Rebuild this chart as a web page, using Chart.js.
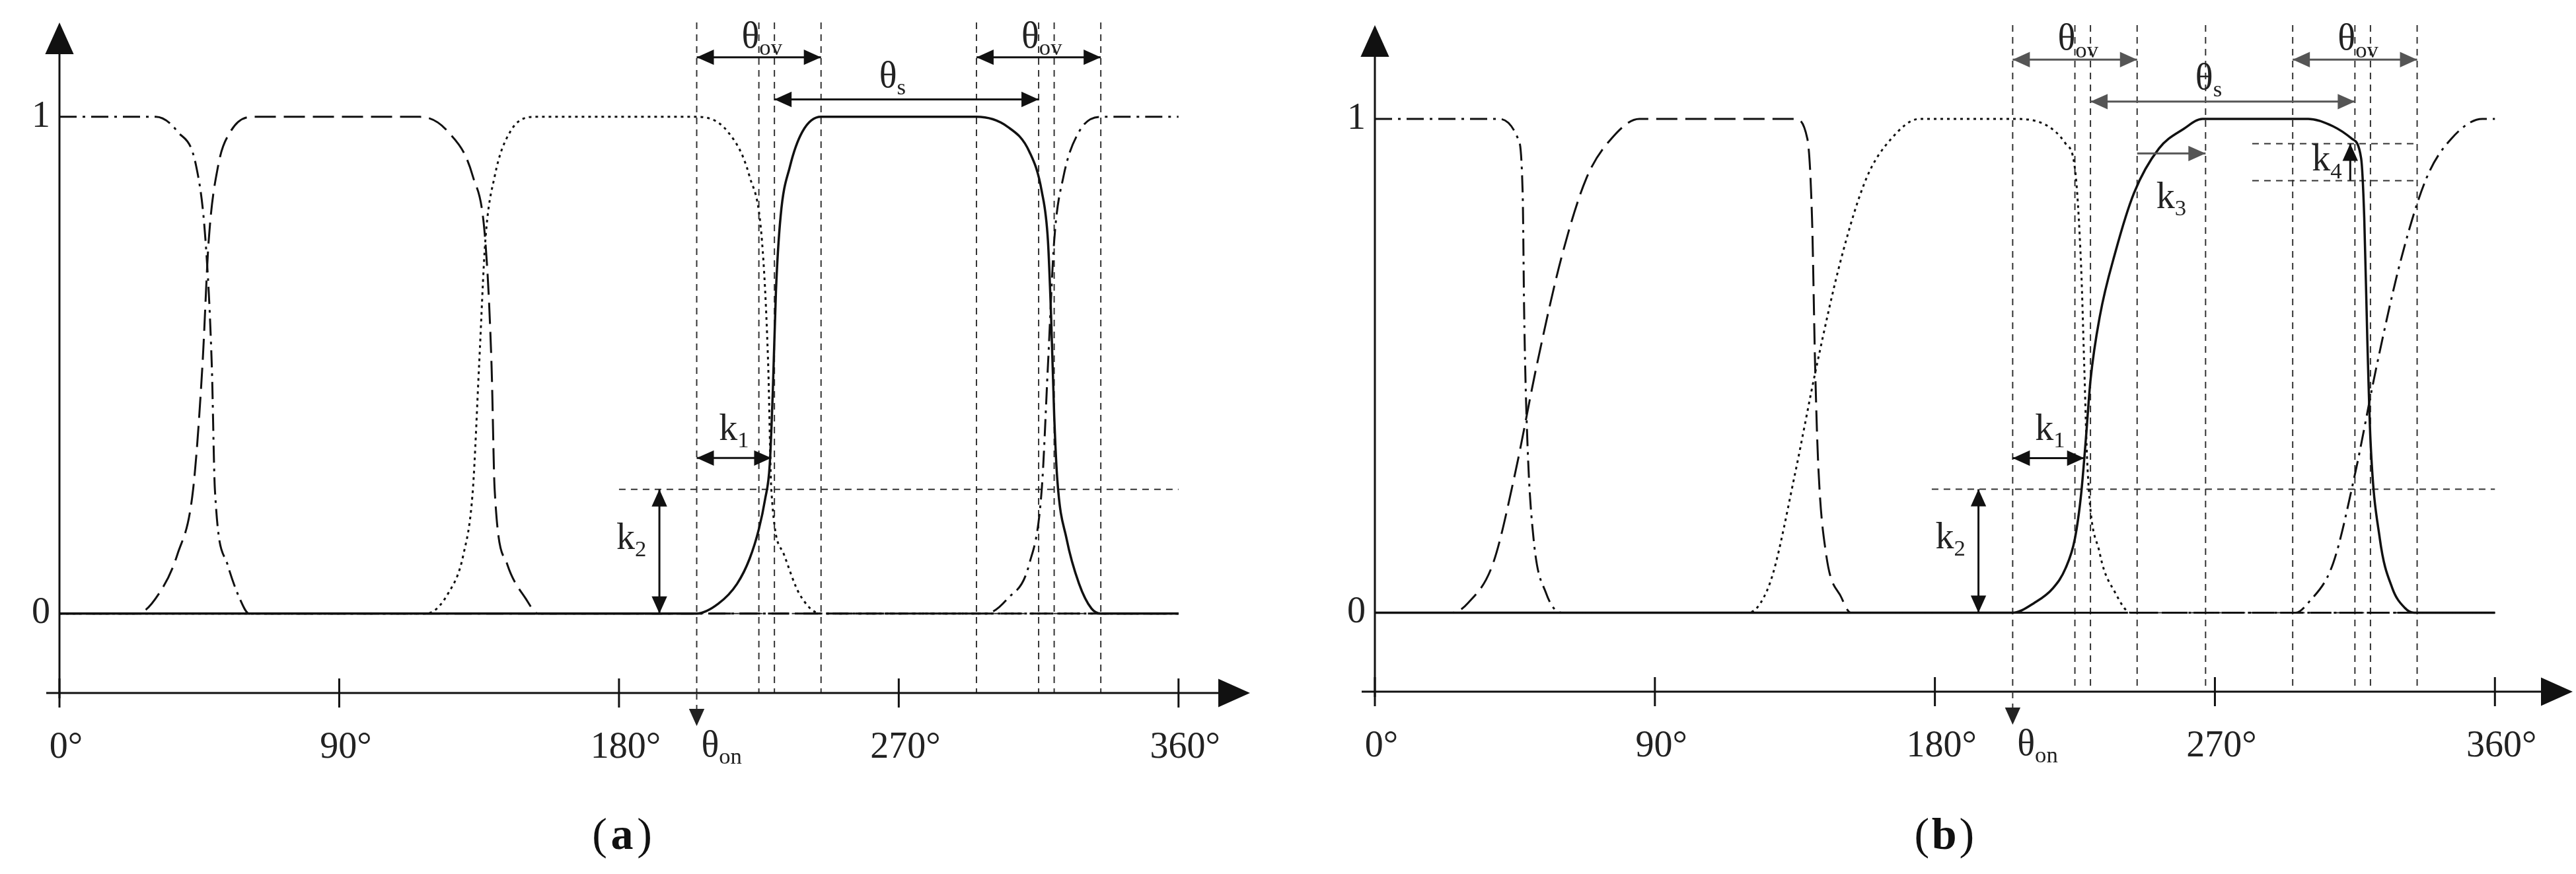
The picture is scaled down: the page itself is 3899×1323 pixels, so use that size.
<!DOCTYPE html>
<html><head><meta charset="utf-8">
<script src="https://cdn.jsdelivr.net/npm/chart.js@4/dist/chart.umd.min.js"></script>
<style>body{margin:0;background:#fff;width:3899px;height:1323px;overflow:hidden}canvas{position:absolute;top:0}</style>
</head><body>
<canvas id="ca" width="1950" height="1323" style="left:0"></canvas>
<canvas id="cb" width="1949" height="1323" style="left:1950px"></canvas>
<script>
// ---- data (degrees, normalized inductance/current profile) ----
const xTicks = [0, 90, 180, 270, 360];
const xTickLabels = ["0°", "90°", "180°", "270°", "360°"];
const yTicks = [0, 1];

// panel (a)
const aSolidX = [0,205,212,218,222,225,227,228.5,229.5,230.5,232,235,239,245,295,305,312,316,318,319,320,321,324,328,332,335,360];
const aSolidY = [0,0,0.02,0.06,0.11,0.17,0.23,0.3,0.45,0.65,0.8,0.9,0.97,1,1,0.98,0.93,0.85,0.75,0.6,0.4,0.27,0.15,0.06,0.01,0,0];
const aDotX = [0,118,125,130,133,135,137,140,145,153,205,215,222,226,228,229,233,238,245,360];
const aDotY = [0,0,0.04,0.12,0.25,0.5,0.75,0.88,0.97,1,1,0.97,0.88,0.75,0.5,0.25,0.12,0.04,0,0];
const aDashX = [0,25,32,38,43,46,48,51,55,62,116,125,133,137,139,140,144,150,154,360];
const aDashY = [0,0,0.04,0.12,0.25,0.5,0.75,0.9,0.97,1,1,0.97,0.88,0.75,0.5,0.25,0.1,0.03,0,0];
const aDdX = [0,31,38,44,47,49,50,54,58,61,298,305,312,316,318,320,323,328,335,360];
const aDdY = [1,1,0.97,0.9,0.75,0.5,0.25,0.1,0.03,0,0,0.03,0.1,0.25,0.5,0.75,0.88,0.97,1,1];
const aVLines = [205,225,230,245,295,315,320,335];

// panel (b)
const bSolidX = [0,205,212,218,222,225,227,228.5,230,233,238,244,252,260,266,300,308,314,317,318,319,320,323,327,331,334,360];
const bSolidY = [0,0,0.02,0.05,0.09,0.15,0.24,0.35,0.47,0.6,0.73,0.85,0.94,0.98,1,1,0.985,0.96,0.92,0.8,0.55,0.35,0.15,0.05,0.01,0,0];
const bDotX = [0,120,124,128,135,142,150,158,166,175,205,215,222,225,227,228,229,233,238,243,360];
const bDotY = [0,0,0.02,0.08,0.28,0.5,0.72,0.88,0.96,1,1,0.99,0.95,0.9,0.7,0.5,0.3,0.12,0.04,0,0];
const bDashX = [0,25,30,38,45,52,60,68,76,85,135,139,140.5,141.5,142.5,145,150,153,360];
const bDashY = [0,0,0.02,0.1,0.28,0.5,0.72,0.88,0.96,1,1,0.96,0.8,0.5,0.3,0.12,0.03,0,0];
const bDdX = [0,40,46,47.5,48,49,51,55,60,296,300,308,315,322,330,338,346,356,360];
const bDdY = [1,1,0.96,0.85,0.6,0.35,0.15,0.04,0,0,0.02,0.1,0.28,0.5,0.72,0.88,0.96,1,1];
const bVLines = [205,225,230,245,267,295,315,320,335];

const pts = (xs, ys) => xs.map((x, i) => ({x, y: ys[i]}));
const FONT = '"Liberation Serif", "DejaVu Serif", serif';

function ds(xs, ys, dash, w) {
  return {data: pts(xs, ys), showLine: true, borderColor: '#111', borderWidth: w || 3,
    borderDash: dash, pointRadius: 0, cubicInterpolationMode: 'monotone', fill: false};
}

function head(ctx, x, y, ang, s, col) {
  ctx.save(); ctx.translate(x, y); ctx.rotate(ang);
  ctx.fillStyle = col; ctx.beginPath();
  ctx.moveTo(0, 0); ctx.lineTo(-s, -s * 0.45); ctx.lineTo(-s, s * 0.45); ctx.closePath(); ctx.fill();
  ctx.restore();
}
function arrow(ctx, x1, y1, x2, y2, both, col) {
  ctx.save(); ctx.strokeStyle = col; ctx.lineWidth = 3; ctx.setLineDash([]);
  ctx.beginPath(); ctx.moveTo(x1, y1); ctx.lineTo(x2, y2); ctx.stroke();
  const a = Math.atan2(y2 - y1, x2 - x1);
  head(ctx, x2, y2, a, 26, col);
  if (both) head(ctx, x1, y1, a + Math.PI, 26, col);
  ctx.restore();
}
function label(ctx, x, y, main, sub, size) {
  ctx.save(); ctx.fillStyle = '#222'; ctx.textBaseline = 'alphabetic'; ctx.textAlign = 'left';
  ctx.font = size + 'px ' + FONT;
  const w = ctx.measureText(main).width;
  ctx.font = (size * 0.62) + 'px ' + FONT;
  const ws = sub ? ctx.measureText(sub).width : 0;
  const x0 = x - (w + ws) / 2;
  ctx.font = size + 'px ' + FONT; ctx.fillText(main, x0, y);
  if (sub) { ctx.font = (size * 0.62) + 'px ' + FONT; ctx.fillText(sub, x0 + w, y + size * 0.2); }
  ctx.restore();
}

function makePlugin(cfg) {
  return {
    id: 'deco',
    beforeDatasetsDraw(chart) {
      const ctx = chart.ctx, X = chart.scales.x, Y = chart.scales.y;
      const px = v => X.getPixelForValue(v), py = v => Y.getPixelForValue(v);
      ctx.save();
      ctx.strokeStyle = '#333'; ctx.lineWidth = 2; ctx.setLineDash([10, 8]);
      cfg.vlines.forEach(v => { ctx.beginPath(); ctx.moveTo(px(v), py(1.19)); ctx.lineTo(px(v), py(-0.16)); ctx.stroke(); });
      ctx.beginPath(); ctx.moveTo(px(cfg.hStart), py(0.25)); ctx.lineTo(px(360), py(0.25)); ctx.stroke();
      ctx.beginPath(); ctx.moveTo(px(205), py(0)); ctx.lineTo(px(360), py(0)); ctx.stroke();
      if (cfg.k4) {
        [0.95, 0.875].forEach(v => { ctx.beginPath(); ctx.moveTo(px(282), py(v)); ctx.lineTo(px(334), py(v)); ctx.stroke(); });
      }
      ctx.restore();
    },
    afterDraw(chart) {
      const ctx = chart.ctx, X = chart.scales.x, Y = chart.scales.y;
      const px = v => X.getPixelForValue(v), py = v => Y.getPixelForValue(v);
      const ca = chart.chartArea;
      ctx.save();
      ctx.strokeStyle = '#111'; ctx.lineWidth = 3; ctx.setLineDash([]);
      const x0 = px(0), yAx = py(-0.16);
      ctx.beginPath(); ctx.moveTo(x0, yAx + 8); ctx.lineTo(x0, ca.top + 30); ctx.stroke();
      head(ctx, x0, ca.top, -Math.PI / 2, 48, '#111');
      ctx.beginPath(); ctx.moveTo(x0 - 20, yAx); ctx.lineTo(ca.right - 40, yAx); ctx.stroke();
      head(ctx, ca.right, yAx, 0, 48, '#111');
      xTicks.forEach((t, i) => {
        ctx.beginPath(); ctx.moveTo(px(t), yAx - 22); ctx.lineTo(px(t), yAx + 22); ctx.stroke();
        ctx.fillStyle = '#222'; ctx.font = '56px ' + FONT; ctx.textAlign = 'center'; ctx.textBaseline = 'top';
        ctx.fillText(xTickLabels[i], px(t) + 10, yAx + 55);
      });
      yTicks.forEach(t => {
        ctx.fillStyle = '#222'; ctx.font = '56px ' + FONT; ctx.textAlign = 'right'; ctx.textBaseline = 'middle';
        ctx.fillText(String(t), x0 - 14, py(t));
      });
      ctx.strokeStyle = '#333'; ctx.lineWidth = 2; ctx.setLineDash([10, 8]);
      ctx.beginPath(); ctx.moveTo(px(205), yAx); ctx.lineTo(px(205), yAx + 30); ctx.stroke();
      head(ctx, px(205), yAx + 50, Math.PI / 2, 26, '#222');
      label(ctx, px(213), yAx + 96, 'θ', 'on', 56);
      const col = cfg.arrowCol;
      arrow(ctx, px(205), py(1.12), px(245), py(1.12), true, col);
      arrow(ctx, px(295), py(1.12), px(335), py(1.12), true, col);
      arrow(ctx, px(230), py(1.035), px(315), py(1.035), true, col);
      label(ctx, px(226), py(1.14), 'θ', 'ov', 56);
      label(ctx, px(316), py(1.14), 'θ', 'ov', 56);
      label(ctx, px(268), py(1.06), 'θ', 's', 56);
      arrow(ctx, px(205), py(0.313), px(cfg.k1End), py(0.313), true, '#111');
      label(ctx, px(217), py(0.35), 'k', '1', 56);
      arrow(ctx, px(cfg.k2x), py(0), px(cfg.k2x), py(0.25), true, '#111');
      label(ctx, px(cfg.k2x - 9), py(0.13), 'k', '2', 56);
      if (cfg.k4) {
        arrow(ctx, px(245), py(0.93), px(267), py(0.93), false, col);
        label(ctx, px(256), py(0.82), 'k', '3', 56);
        arrow(ctx, px(313.5), py(0.875), px(313.5), py(0.95), false, '#111');
        label(ctx, px(306), py(0.895), 'k', '4', 56);
      }
      ctx.fillStyle = '#111'; ctx.textAlign = 'center'; ctx.textBaseline = 'alphabetic';
      ctx.font = '68px ' + FONT; const cap = cfg.caption;
      const cx = px(cfg.capX);
      ctx.fillText('(', cx - 34, 1285); ctx.fillText(')', cx + 34, 1285);
      ctx.font = 'bold 68px ' + FONT; ctx.fillText(cap, cx, 1285);
      ctx.restore();
    }
  };
}

function make(id, series, cfg, pad, xmax) {
  new Chart(document.getElementById(id), {
    type: 'scatter',
    data: {datasets: [
      ds(series[1][0], series[1][1], [4, 6], 3),
      ds(series[2][0], series[2][1], [32, 12], 3),
      ds(series[3][0], series[3][1], [26, 9, 4, 9], 3),
      ds(series[0][0], series[0][1], [], 3.5)
    ]},
    options: {
      responsive: false, animation: false, devicePixelRatio: 1,
      layout: {padding: pad},
      plugins: {legend: {display: false}, tooltip: {enabled: false}},
      scales: {x: {type: 'linear', min: 0, max: xmax, display: false},
               y: {type: 'linear', min: -0.16, max: 1.19, display: false}}
    },
    plugins: [makePlugin(cfg)]
  });
}

make('ca', [[aSolidX, aSolidY], [aDotX, aDotY], [aDashX, aDashY], [aDdX, aDdY]],
  {vlines: aVLines, hStart: 180, k1End: 229, k2x: 193, k4: false, arrowCol: '#111', caption: 'a', capX: 181},
  {left: 90, right: 58, top: 34, bottom: 274}, 383);
make('cb', [[bSolidX, bSolidY], [bDotX, bDotY], [bDashX, bDashY], [bDdX, bDdY]],
  {vlines: bVLines, hStart: 179, k1End: 228, k2x: 194, k4: true, arrowCol: '#555', caption: 'b', capX: 183},
  {left: 131, right: 5, top: 38, bottom: 276}, 385);
</script>
</body></html>
